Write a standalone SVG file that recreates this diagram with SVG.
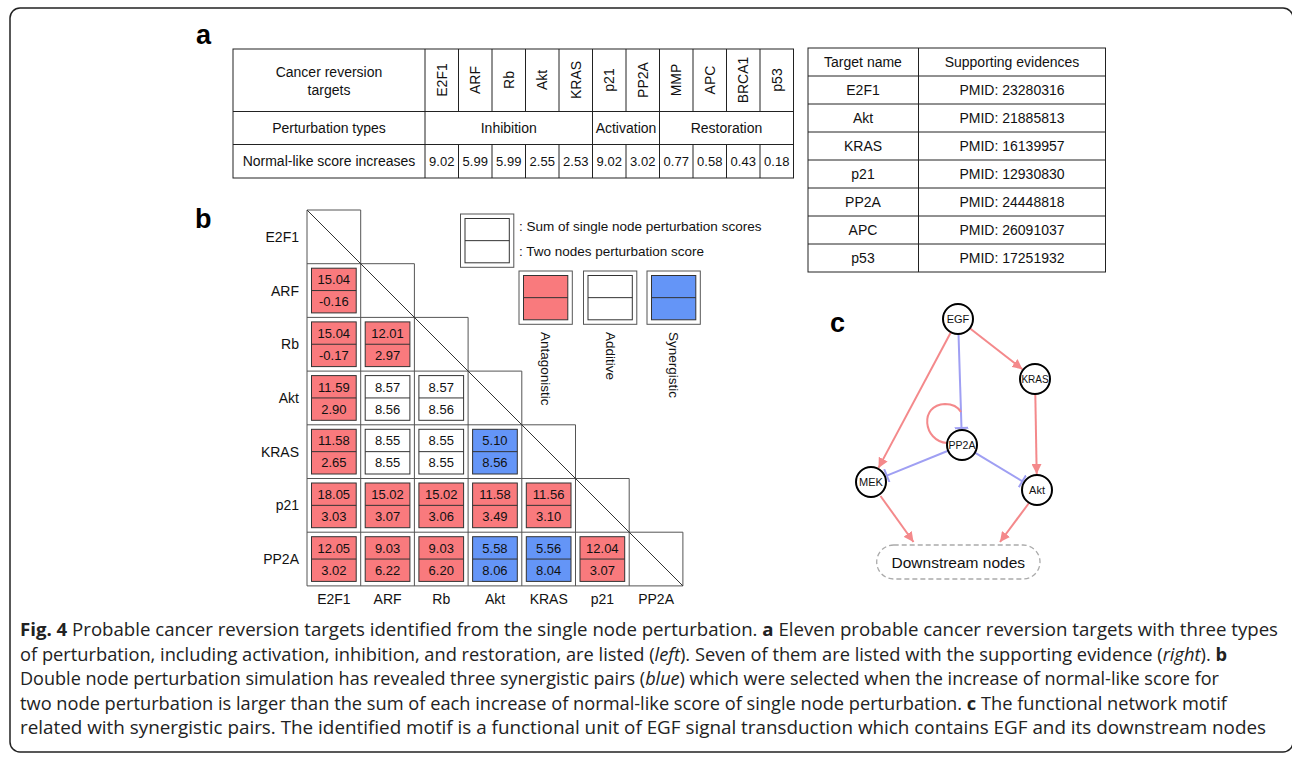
<svg xmlns="http://www.w3.org/2000/svg" width="1292" height="757" viewBox="0 0 1292 757">
<style>
.s{font-family:"Liberation Sans",Arial,sans-serif;fill:#111}
.f14{font-size:14px}
.f13{font-size:13.5px}
.f12{font-size:13px}
.c{text-anchor:middle;dominant-baseline:central}
.e{text-anchor:end;dominant-baseline:central}
.pl{font-family:"Liberation Sans",Arial,sans-serif;font-weight:bold;font-size:27px;fill:#000}
.tb{fill:none;stroke:#222;stroke-width:1}
.grid{fill:none;stroke:#555;stroke-width:1}
.ib{stroke:#333;stroke-width:1}
.R{fill:#F97A7D}
.W{fill:#fff}
.B{fill:#6495F7}
.er{fill:none;stroke:#F4898B;stroke-width:2}
.eb{fill:none;stroke:#9F9FF3;stroke-width:2}
.nd{fill:#fff;stroke:#000;stroke-width:2}
.nl{font-family:"Liberation Sans",Arial,sans-serif;font-size:11px;fill:#111;text-anchor:middle;dominant-baseline:central}
.cap{font-family:"Open Sans","Noto Sans",sans-serif;font-size:18px;fill:#222}
</style>
<defs>
<marker id="arr" viewBox="0 0 10 10" refX="10" refY="5" markerWidth="10" markerHeight="10" markerUnits="userSpaceOnUse" orient="auto">
<path d="M0,0 L10,5 L0,10 Z" fill="#F4898B"/>
</marker>
<marker id="tee" viewBox="0 0 4 14" refX="2" refY="7" markerWidth="4" markerHeight="14" markerUnits="userSpaceOnUse" orient="auto">
<path d="M2,0 L2,14" stroke="#9F9FF3" stroke-width="2"/>
</marker>
</defs>
<rect x="10" y="8" width="1283" height="744" rx="10" fill="#fff" stroke="#222" stroke-width="1.5"/>

<!-- Panel labels -->
<text class="pl" x="196" y="44">a</text>
<text class="pl" x="195" y="228">b</text>
<text class="pl" x="830" y="332">c</text>

<!-- Table a -->
<g id="table-a">
<rect x="233" y="49" width="560.5" height="129" class="tb"/>
<path class="tb" d="M233,111.5H793.5M233,144.5H793.5M425,49V178M592.5,49V178M659.5,49V178M458.5,49V111.5M492,49V111.5M525.5,49V111.5M559,49V111.5M626,49V111.5M693,49V111.5M726.5,49V111.5M760,49V111.5M458.5,144.5V178M492,144.5V178M525.5,144.5V178M559,144.5V178M626,144.5V178M693,144.5V178M726.5,144.5V178M760,144.5V178"/>
<text class="s f14 c" x="329" y="72">Cancer reversion</text>
<text class="s f14 c" x="329" y="90">targets</text>
<text class="s f14 c" transform="translate(441.75,80) rotate(-90)">E2F1</text>
<text class="s f14 c" transform="translate(475.25,80) rotate(-90)">ARF</text>
<text class="s f14 c" transform="translate(508.75,80) rotate(-90)">Rb</text>
<text class="s f14 c" transform="translate(542.25,80) rotate(-90)">Akt</text>
<text class="s f14 c" transform="translate(575.75,80) rotate(-90)">KRAS</text>
<text class="s f14 c" transform="translate(609.25,80) rotate(-90)">p21</text>
<text class="s f14 c" transform="translate(642.75,80) rotate(-90)">PP2A</text>
<text class="s f14 c" transform="translate(676.25,80) rotate(-90)">MMP</text>
<text class="s f14 c" transform="translate(709.75,80) rotate(-90)">APC</text>
<text class="s f14 c" transform="translate(743.25,80) rotate(-90)">BRCA1</text>
<text class="s f14 c" transform="translate(776.75,80) rotate(-90)">p53</text>
<text class="s f14 c" x="329" y="128">Perturbation types</text>
<text class="s f14 c" x="508.75" y="128">Inhibition</text>
<text class="s f14 c" x="626" y="128">Activation</text>
<text class="s f14 c" x="726.5" y="128">Restoration</text>
<text class="s f14 c" x="329" y="161">Normal-like score increases</text>
<text class="s f12 c" x="441.75" y="161">9.02</text>
<text class="s f12 c" x="475.25" y="161">5.99</text>
<text class="s f12 c" x="508.75" y="161">5.99</text>
<text class="s f12 c" x="542.25" y="161">2.55</text>
<text class="s f12 c" x="575.75" y="161">2.53</text>
<text class="s f12 c" x="609.25" y="161">9.02</text>
<text class="s f12 c" x="642.75" y="161">3.02</text>
<text class="s f12 c" x="676.25" y="161">0.77</text>
<text class="s f12 c" x="709.75" y="161">0.58</text>
<text class="s f12 c" x="743.25" y="161">0.43</text>
<text class="s f12 c" x="776.75" y="161">0.18</text>
</g>

<!-- Table right -->
<g id="table-evidence">
<rect x="808" y="48" width="297.5" height="224" class="tb"/>
<path class="tb" d="M918.5,48V272M808,76H1105.5M808,104H1105.5M808,132H1105.5M808,160H1105.5M808,188H1105.5M808,216H1105.5M808,244H1105.5"/>
<text class="s f14 c" x="863" y="62">Target name</text>
<text class="s f14 c" x="1012" y="62">Supporting evidences</text>
<text class="s f14 c" x="863" y="90">E2F1</text><text class="s f14 c" x="1012" y="90">PMID: 23280316</text>
<text class="s f14 c" x="863" y="118">Akt</text><text class="s f14 c" x="1012" y="118">PMID: 21885813</text>
<text class="s f14 c" x="863" y="146">KRAS</text><text class="s f14 c" x="1012" y="146">PMID: 16139957</text>
<text class="s f14 c" x="863" y="174">p21</text><text class="s f14 c" x="1012" y="174">PMID: 12930830</text>
<text class="s f14 c" x="863" y="202">PP2A</text><text class="s f14 c" x="1012" y="202">PMID: 24448818</text>
<text class="s f14 c" x="863" y="230">APC</text><text class="s f14 c" x="1012" y="230">PMID: 26091037</text>
<text class="s f14 c" x="863" y="258">p53</text><text class="s f14 c" x="1012" y="258">PMID: 17251932</text>
</g>

<!-- Matrix b -->
<g id="matrix-grid">
<path class="grid" d="M307,210H360.7V263.7H414.4V317.4H468.1V371.1H521.8V424.8H575.5V478.5H629.2V532.2H682.9V585.9H307Z"/>
<path class="grid" d="M307,263.7H360.7M307,317.4H414.4M307,371.1H468.1M307,424.8H521.8M307,478.5H575.5M307,532.2H629.2M360.7,263.7V585.9M414.4,317.4V585.9M468.1,371.1V585.9M521.8,424.8V585.9M575.5,478.5V585.9M629.2,532.2V585.9"/>
<path d="M307,210L682.9,585.9" stroke="#333" stroke-width="1"/>
</g>
<g id="row-labels">
<text class="s f14 e" x="299" y="237">E2F1</text>
<text class="s f14 e" x="299" y="290.5">ARF</text>
<text class="s f14 e" x="299" y="344.2">Rb</text>
<text class="s f14 e" x="299" y="397.9">Akt</text>
<text class="s f14 e" x="299" y="451.6">KRAS</text>
<text class="s f14 e" x="299" y="505.3">p21</text>
<text class="s f14 e" x="299" y="559">PP2A</text>
</g>
<g id="col-labels">
<text class="s f14 c" x="333.9" y="599">E2F1</text>
<text class="s f14 c" x="387.6" y="599">ARF</text>
<text class="s f14 c" x="441.3" y="599">Rb</text>
<text class="s f14 c" x="495" y="599">Akt</text>
<text class="s f14 c" x="548.7" y="599">KRAS</text>
<text class="s f14 c" x="602.4" y="599">p21</text>
<text class="s f14 c" x="656.1" y="599">PP2A</text>
</g>
<g id="cells">
<g transform="translate(307,263.7)"><rect x="4.5" y="4.5" width="44.7" height="44.7" class="ib R"/><path d="M4.5,26.85H49.2" class="ib"/><text class="s f12 c" x="26.85" y="16">15.04</text><text class="s f12 c" x="26.85" y="38">-0.16</text></g>
<g transform="translate(307,317.4)"><rect x="4.5" y="4.5" width="44.7" height="44.7" class="ib R"/><path d="M4.5,26.85H49.2" class="ib"/><text class="s f12 c" x="26.85" y="16">15.04</text><text class="s f12 c" x="26.85" y="38">-0.17</text></g>
<g transform="translate(360.7,317.4)"><rect x="4.5" y="4.5" width="44.7" height="44.7" class="ib R"/><path d="M4.5,26.85H49.2" class="ib"/><text class="s f12 c" x="26.85" y="16">12.01</text><text class="s f12 c" x="26.85" y="38">2.97</text></g>
<g transform="translate(307,371.1)"><rect x="4.5" y="4.5" width="44.7" height="44.7" class="ib R"/><path d="M4.5,26.85H49.2" class="ib"/><text class="s f12 c" x="26.85" y="16">11.59</text><text class="s f12 c" x="26.85" y="38">2.90</text></g>
<g transform="translate(360.7,371.1)"><rect x="4.5" y="4.5" width="44.7" height="44.7" class="ib W"/><path d="M4.5,26.85H49.2" class="ib"/><text class="s f12 c" x="26.85" y="16">8.57</text><text class="s f12 c" x="26.85" y="38">8.56</text></g>
<g transform="translate(414.4,371.1)"><rect x="4.5" y="4.5" width="44.7" height="44.7" class="ib W"/><path d="M4.5,26.85H49.2" class="ib"/><text class="s f12 c" x="26.85" y="16">8.57</text><text class="s f12 c" x="26.85" y="38">8.56</text></g>
<g transform="translate(307,424.8)"><rect x="4.5" y="4.5" width="44.7" height="44.7" class="ib R"/><path d="M4.5,26.85H49.2" class="ib"/><text class="s f12 c" x="26.85" y="16">11.58</text><text class="s f12 c" x="26.85" y="38">2.65</text></g>
<g transform="translate(360.7,424.8)"><rect x="4.5" y="4.5" width="44.7" height="44.7" class="ib W"/><path d="M4.5,26.85H49.2" class="ib"/><text class="s f12 c" x="26.85" y="16">8.55</text><text class="s f12 c" x="26.85" y="38">8.55</text></g>
<g transform="translate(414.4,424.8)"><rect x="4.5" y="4.5" width="44.7" height="44.7" class="ib W"/><path d="M4.5,26.85H49.2" class="ib"/><text class="s f12 c" x="26.85" y="16">8.55</text><text class="s f12 c" x="26.85" y="38">8.55</text></g>
<g transform="translate(468.1,424.8)"><rect x="4.5" y="4.5" width="44.7" height="44.7" class="ib B"/><path d="M4.5,26.85H49.2" class="ib"/><text class="s f12 c" x="26.85" y="16">5.10</text><text class="s f12 c" x="26.85" y="38">8.56</text></g>
<g transform="translate(307,478.5)"><rect x="4.5" y="4.5" width="44.7" height="44.7" class="ib R"/><path d="M4.5,26.85H49.2" class="ib"/><text class="s f12 c" x="26.85" y="16">18.05</text><text class="s f12 c" x="26.85" y="38">3.03</text></g>
<g transform="translate(360.7,478.5)"><rect x="4.5" y="4.5" width="44.7" height="44.7" class="ib R"/><path d="M4.5,26.85H49.2" class="ib"/><text class="s f12 c" x="26.85" y="16">15.02</text><text class="s f12 c" x="26.85" y="38">3.07</text></g>
<g transform="translate(414.4,478.5)"><rect x="4.5" y="4.5" width="44.7" height="44.7" class="ib R"/><path d="M4.5,26.85H49.2" class="ib"/><text class="s f12 c" x="26.85" y="16">15.02</text><text class="s f12 c" x="26.85" y="38">3.06</text></g>
<g transform="translate(468.1,478.5)"><rect x="4.5" y="4.5" width="44.7" height="44.7" class="ib R"/><path d="M4.5,26.85H49.2" class="ib"/><text class="s f12 c" x="26.85" y="16">11.58</text><text class="s f12 c" x="26.85" y="38">3.49</text></g>
<g transform="translate(521.8,478.5)"><rect x="4.5" y="4.5" width="44.7" height="44.7" class="ib R"/><path d="M4.5,26.85H49.2" class="ib"/><text class="s f12 c" x="26.85" y="16">11.56</text><text class="s f12 c" x="26.85" y="38">3.10</text></g>
<g transform="translate(307,532.2)"><rect x="4.5" y="4.5" width="44.7" height="44.7" class="ib R"/><path d="M4.5,26.85H49.2" class="ib"/><text class="s f12 c" x="26.85" y="16">12.05</text><text class="s f12 c" x="26.85" y="38">3.02</text></g>
<g transform="translate(360.7,532.2)"><rect x="4.5" y="4.5" width="44.7" height="44.7" class="ib R"/><path d="M4.5,26.85H49.2" class="ib"/><text class="s f12 c" x="26.85" y="16">9.03</text><text class="s f12 c" x="26.85" y="38">6.22</text></g>
<g transform="translate(414.4,532.2)"><rect x="4.5" y="4.5" width="44.7" height="44.7" class="ib R"/><path d="M4.5,26.85H49.2" class="ib"/><text class="s f12 c" x="26.85" y="16">9.03</text><text class="s f12 c" x="26.85" y="38">6.20</text></g>
<g transform="translate(468.1,532.2)"><rect x="4.5" y="4.5" width="44.7" height="44.7" class="ib B"/><path d="M4.5,26.85H49.2" class="ib"/><text class="s f12 c" x="26.85" y="16">5.58</text><text class="s f12 c" x="26.85" y="38">8.06</text></g>
<g transform="translate(521.8,532.2)"><rect x="4.5" y="4.5" width="44.7" height="44.7" class="ib B"/><path d="M4.5,26.85H49.2" class="ib"/><text class="s f12 c" x="26.85" y="16">5.56</text><text class="s f12 c" x="26.85" y="38">8.04</text></g>
<g transform="translate(575.5,532.2)"><rect x="4.5" y="4.5" width="44.7" height="44.7" class="ib R"/><path d="M4.5,26.85H49.2" class="ib"/><text class="s f12 c" x="26.85" y="16">12.04</text><text class="s f12 c" x="26.85" y="38">3.07</text></g>
</g>

<!-- Legend -->
<g id="legend">
<g transform="translate(460.5,214)"><rect x="0" y="0" width="53.3" height="53.3" class="grid"/><rect x="4.5" y="4.5" width="44.3" height="44.3" class="ib W"/><path d="M4.5,26.65H48.8" class="ib"/></g>
<text class="s f13" x="519" y="231">: Sum of single node perturbation scores</text>
<text class="s f13" x="519" y="256">: Two nodes perturbation score</text>
<g transform="translate(519,271)"><rect x="0" y="0" width="53.3" height="53.3" class="grid"/><rect x="4.5" y="4.5" width="44.3" height="44.3" class="ib R"/><path d="M4.5,26.65H48.8" class="ib"/></g>
<g transform="translate(583.5,271)"><rect x="0" y="0" width="53.3" height="53.3" class="grid"/><rect x="4.5" y="4.5" width="44.3" height="44.3" class="ib W"/><path d="M4.5,26.65H48.8" class="ib"/></g>
<g transform="translate(647,271)"><rect x="0" y="0" width="53.3" height="53.3" class="grid"/><rect x="4.5" y="4.5" width="44.3" height="44.3" class="ib B"/><path d="M4.5,26.65H48.8" class="ib"/></g>
<text class="s f13" dominant-baseline="central" transform="translate(545.6,332) rotate(90)">Antagonistic</text>
<text class="s f13" dominant-baseline="central" transform="translate(610.5,332) rotate(90)">Additive</text>
<text class="s f13" dominant-baseline="central" transform="translate(673.5,332) rotate(90)">Synergistic</text>
</g>

<!-- Panel c network -->
<g id="connectors">
<path class="er" d="M950.9,332.2L878.5,467.9" marker-end="url(#arr)"/>
<path class="eb" d="M958.5,334L961.5,428" marker-end="url(#tee)"/>
<path class="er" d="M969.8,328.2L1022.4,369.2" marker-end="url(#arr)"/>
<path class="er" d="M1035.3,394L1036.7,474" marker-end="url(#arr)"/>
<path class="er" d="M947,443C923,441 919,405 945,404C953,404 958,407 961,412"/>
<path class="eb" d="M948.1,450.7L886.8,475.6" marker-end="url(#tee)"/>
<path class="eb" d="M974.9,452.7L1022.4,481.3" marker-end="url(#tee)"/>
<path class="er" d="M880.5,496L913.5,542" marker-end="url(#arr)"/>
<path class="er" d="M1029,503L1000,542" marker-end="url(#arr)"/>
</g>
<g id="node-EGF"><circle class="nd" cx="958" cy="319" r="15"/><text class="nl" x="958" y="319">EGF</text></g>
<g id="node-KRAS"><circle class="nd" cx="1035" cy="379" r="15"/><text class="nl" x="1035" y="379" style="font-size:10px">KRAS</text></g>
<g id="node-PP2A"><circle class="nd" cx="962" cy="445" r="15"/><text class="nl" x="962" y="445" style="font-size:10.5px">PP2A</text></g>
<g id="node-MEK"><circle class="nd" cx="871" cy="482" r="15"/><text class="nl" x="871" y="482">MEK</text></g>
<g id="node-Akt"><circle class="nd" cx="1037" cy="490" r="15"/><text class="nl" x="1037" y="490">Akt</text></g>
<g id="node-downstream"><rect x="876.7" y="545" width="163.3" height="34" rx="17" fill="#fff" stroke="#aaa" stroke-width="1.3" stroke-dasharray="5,3"/><text class="s c" x="958.3" y="562" style="font-size:15.5px">Downstream nodes</text></g>

<!-- Caption -->
<g id="caption">
<text class="cap" x="20" y="636" textLength="1258" lengthAdjust="spacingAndGlyphs"><tspan font-weight="bold">Fig. 4</tspan> Probable cancer reversion targets identified from the single node perturbation. <tspan font-weight="bold">a</tspan> Eleven probable cancer reversion targets with three types</text>
<text class="cap" x="20" y="661" textLength="1207" lengthAdjust="spacingAndGlyphs">of perturbation, including activation, inhibition, and restoration, are listed (<tspan font-style="italic">left</tspan>). Seven of them are listed with the supporting evidence (<tspan font-style="italic">right</tspan>). <tspan font-weight="bold">b</tspan></text>
<text class="cap" x="20" y="685" textLength="1199" lengthAdjust="spacingAndGlyphs">Double node perturbation simulation has revealed three synergistic pairs (<tspan font-style="italic">blue</tspan>) which were selected when the increase of normal-like score for</text>
<text class="cap" x="20" y="710" textLength="1207" lengthAdjust="spacingAndGlyphs">two node perturbation is larger than the sum of each increase of normal-like score of single node perturbation. <tspan font-weight="bold">c</tspan> The functional network motif</text>
<text class="cap" x="20" y="734" textLength="1246" lengthAdjust="spacingAndGlyphs">related with synergistic pairs. The identified motif is a functional unit of EGF signal transduction which contains EGF and its downstream nodes</text>
</g>
</svg>
